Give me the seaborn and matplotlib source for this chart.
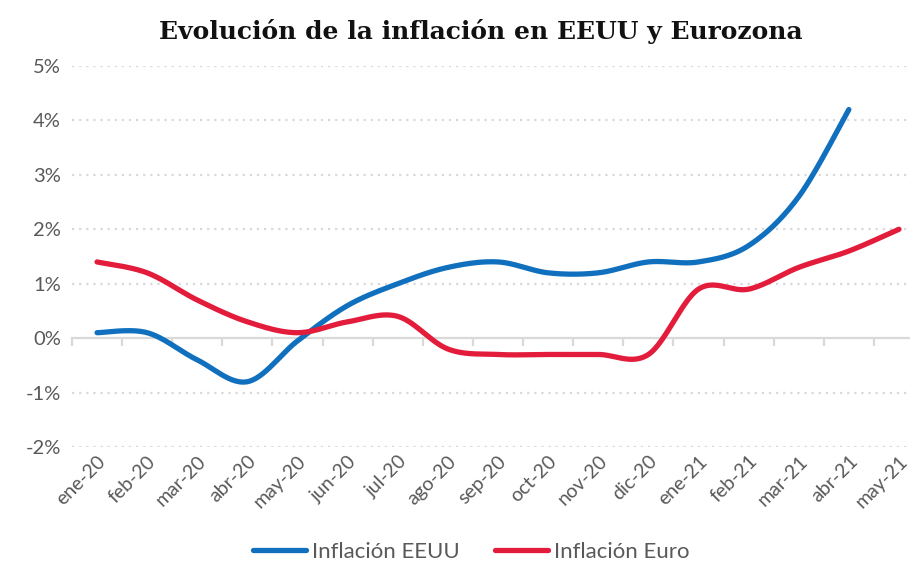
import numpy as np
import pandas as pd
import matplotlib
matplotlib.use("Agg")
import matplotlib.pyplot as plt
import seaborn as sns

# Data (percent)
months = ["ene-20", "feb-20", "mar-20", "abr-20", "may-20", "jun-20", "jul-20",
          "ago-20", "sep-20", "oct-20", "nov-20", "dic-20", "ene-21", "feb-21",
          "mar-21", "abr-21", "may-21"]
eeuu = [0.1, 0.1, -0.4, -0.8, -0.05, 0.6, 1.0, 1.3, 1.4, 1.2, 1.2, 1.4, 1.4, 1.7,
        2.6, 4.2, np.nan]
euro = [1.4, 1.2, 0.7, 0.3, 0.1, 0.3, 0.4, -0.2, -0.3, -0.3, -0.3, -0.3, 0.9, 0.9,
        1.3, 1.6, 2.0]

blue = "#1170BE"
red = "#E31C3B"
gray = "#595959"
grid = "#D9D9D9"


def smooth(y, n=30):
    # Excel-like smoothed line (Catmull-Rom bezier between the data points)
    x = np.arange(len(y), dtype=float)
    y = np.asarray(y, dtype=float)
    ok = ~np.isnan(y)
    x, y = x[ok], y[ok]
    pts = np.column_stack([x, y])
    out = []
    t = np.linspace(0, 1, n)[:, None]
    for i in range(len(pts) - 1):
        p0 = pts[i - 1] if i > 0 else pts[i]
        p1, p2 = pts[i], pts[i + 1]
        p3 = pts[i + 2] if i + 2 < len(pts) else pts[i + 1]
        c1 = p1 + (p2 - p0) / 6
        c2 = p2 - (p3 - p1) / 6
        seg = ((1 - t) ** 3) * p1 + 3 * ((1 - t) ** 2) * t * c1 + 3 * (1 - t) * t ** 2 * c2 + t ** 3 * p2
        out.append(seg if i == 0 else seg[1:])
    return np.vstack(out)


sns.set_style("white")
plt.rcParams["font.family"] = ["Lato", "DejaVu Sans"]

fig = plt.figure(figsize=(9.1, 5.63), dpi=100)
ax = fig.add_axes([72 / 910, 116 / 563, 838 / 910, 381 / 563])

frames = []
for name, vals in [("Inflación EEUU", eeuu), ("Inflación Euro", euro)]:
    c = smooth(vals)
    frames.append(pd.DataFrame({"x": c[:, 0], "y": c[:, 1], "serie": name}))
df = pd.concat(frames, ignore_index=True)

sns.lineplot(data=df, x="x", y="y", hue="serie", palette=[blue, red], sort=False,
             estimator=None, linewidth=3.8, ax=ax, legend=False,
             solid_capstyle="round")

ax.set_xlim(-0.5, 16.22)
ax.set_ylim(-2, 5)
ax.set_xlabel("")
ax.set_ylabel("")

# y axis
ax.set_yticks(range(-2, 6))
ax.set_yticklabels([f"{v}%" for v in range(-2, 6)], fontsize=14.5, color=gray)
ax.tick_params(axis="y", length=0, pad=8)
for v in range(-2, 6):
    if v != 0:
        ax.axhline(v, color=grid, lw=1.6, ls=(0, (1, 2.2)), zorder=0)

# category axis crossing at 0 with boundary tick marks
for s in ["top", "right", "left"]:
    ax.spines[s].set_visible(False)
ax.spines["bottom"].set_position(("data", 0))
ax.spines["bottom"].set_color(grid)
ax.spines["bottom"].set_linewidth(1.6)
ax.spines["bottom"].set_zorder(0)
ax.set_xticks(np.arange(len(months)))
ax.set_xticklabels([])
ax.tick_params(axis="x", which="major", length=0)
ax.set_xticks(np.arange(len(months)) - 0.5, minor=True)
ax.tick_params(axis="x", which="minor", bottom=True, length=6, width=1.6,
               color=grid, direction="out")

sec = ax.secondary_xaxis("bottom")
sec.set_xticks(np.arange(len(months)))
sec.set_xticklabels(months, rotation=45, ha="right", rotation_mode="anchor",
                    fontsize=14, color=gray)
sec.tick_params(length=0, pad=4)
sec.spines["bottom"].set_visible(False)

fig.text(481 / 910, 1 - 31 / 563, "Evolución de la inflación en EEUU y Eurozona",
         ha="center", va="center", fontsize=18, fontweight="bold",
         family="DejaVu Serif", color="#111111")

handles = [plt.Line2D([], [], color=blue, lw=3.8, solid_capstyle="round"),
           plt.Line2D([], [], color=red, lw=3.8, solid_capstyle="round")]
leg = fig.legend(handles, ["Inflación EEUU", "Inflación Euro"], loc="center",
                 bbox_to_anchor=(471 / 910, 11 / 563), ncol=2, frameon=False,
                 fontsize=16, handlelength=2.4, handletextpad=0.25, columnspacing=1.6)
for t in leg.get_texts():
    t.set_color(gray)

fig.savefig("out.png", dpi=100)
